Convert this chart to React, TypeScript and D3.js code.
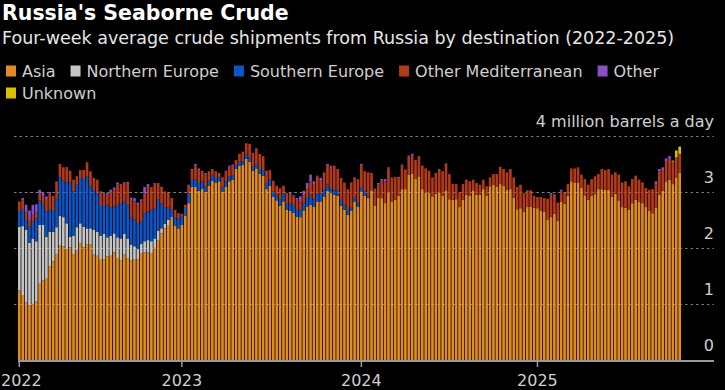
import React, { useRef, useEffect } from 'react';
import * as d3 from 'd3';

// weekly observations, first week starts Sunday 2022-01-30
const firstWeek = new Date(2022, 0, 30);

// million barrels a day, four-week average
const asia = [
  1.25, 1.17, 1.04, 0.99, 1.01, 1.05, 1.37, 1.43, 1.46, 1.68, 1.77, 1.90, 2.05, 2.04, 1.99, 2.02, 1.90, 1.96, 2.10, 2.02, 2.08, 2.07, 1.89, 1.87, 1.80, 1.81, 1.86,
  1.87, 1.93, 1.83, 1.79, 1.90, 1.83, 1.79, 1.80, 1.81, 1.92, 1.93, 1.93, 1.92, 2.01, 2.14, 2.27, 2.36, 2.42, 2.54, 2.41, 2.36, 2.42, 2.59, 2.81, 3.10, 3.10, 3.03, 3.07,
  3.01, 3.12, 3.21, 3.18, 3.20, 3.02, 3.10, 3.20, 3.23, 3.42, 3.48, 3.49, 3.60, 3.55, 3.39, 3.43, 3.33, 3.30, 3.06, 3.12, 2.92, 2.86, 2.76, 2.84, 2.69, 2.67, 2.64, 2.57, 2.56,
  2.68, 2.75, 2.78, 2.75, 2.84, 2.84, 2.93, 3.03, 3.00, 2.96, 2.94, 2.76, 2.69, 2.60, 2.68, 2.84, 2.75, 3.02, 2.94, 2.90, 3.04, 2.76, 2.90, 2.90, 2.81, 3.00, 2.84,
  2.87, 2.94, 3.06, 3.06, 3.32, 3.33, 3.24, 3.29, 3.06, 3.00, 3.00, 2.93, 2.98, 3.00, 2.94, 3.04, 2.88, 2.87, 2.88, 2.74, 2.87, 2.96, 2.94, 3.04, 2.96, 2.96, 3.06, 2.94,
  3.11, 3.14, 3.11, 3.15, 3.12, 3.05, 3.06, 2.91, 2.70, 2.72, 2.66, 2.74, 2.75, 2.73, 2.72, 2.67, 2.66, 2.52, 2.56, 2.62, 2.50, 2.84, 2.80, 2.94, 3.20, 3.18, 3.18, 3.08, 2.95,
  2.87, 2.94, 2.97, 3.06, 3.06, 3.05, 3.05, 2.93, 2.98, 2.86, 2.74, 2.73, 2.69, 2.81, 2.87, 2.84, 2.81, 2.74, 2.67, 2.63, 2.73, 2.96, 3.03, 3.20, 3.23, 3.15, 3.27, 3.35,
];
const northernEurope = [
  1.14, 1.23, 1.29, 1.11, 1.17, 1.08, 1.05, 0.99, 0.75, 0.62, 0.53, 0.48, 0.53, 0.52, 0.46, 0.19, 0.33, 0.42, 0.35, 0.37, 0.28, 0.29, 0.44, 0.43, 0.43, 0.45, 0.34,
  0.36, 0.34, 0.37, 0.39, 0.36, 0.35, 0.28, 0.24, 0.18, 0.16, 0.20, 0.22, 0.21, 0.17, 0.18, 0.09, 0.08, 0.09, 0.02, 0, 0, 0, 0, 0, 0, 0, 0, 0,
  0, 0, 0, 0, 0, 0, 0, 0, 0, 0, 0, 0, 0, 0, 0, 0, 0, 0, 0, 0, 0, 0, 0, 0, 0, 0, 0, 0, 0,
  0, 0, 0, 0, 0, 0, 0, 0, 0, 0, 0, 0, 0, 0, 0, 0, 0, 0, 0, 0, 0, 0, 0, 0, 0, 0, 0,
  0, 0, 0, 0, 0, 0, 0, 0, 0, 0, 0, 0, 0, 0, 0, 0, 0, 0, 0, 0, 0, 0, 0, 0, 0, 0, 0, 0,
  0, 0, 0, 0, 0, 0, 0, 0, 0, 0, 0, 0, 0, 0, 0, 0, 0, 0, 0, 0, 0, 0, 0, 0, 0, 0, 0, 0, 0,
  0, 0, 0, 0, 0, 0, 0, 0, 0, 0, 0, 0, 0, 0, 0, 0, 0, 0, 0, 0, 0, 0, 0, 0, 0, 0, 0, 0,
];
const southernEurope = [
  0.28, 0.29, 0.18, 0.29, 0.30, 0.41, 0.44, 0.36, 0.45, 0.39, 0.36, 0.52, 0.69, 0.65, 0.73, 0.97, 0.79, 0.76, 0.81, 0.85, 0.93, 0.75, 0.71, 0.68, 0.53, 0.50, 0.58,
  0.51, 0.48, 0.58, 0.62, 0.58, 0.60, 0.49, 0.48, 0.45, 0.40, 0.50, 0.51, 0.55, 0.54, 0.55, 0.44, 0.30, 0.22, 0.13, 0.15, 0.18, 0.16, 0.15, 0.18, 0.14, 0.14, 0.14, 0.13,
  0.10, 0.09, 0.11, 0.08, 0.07, 0.08, 0.10, 0.09, 0.07, 0.06, 0.07, 0.06, 0.09, 0.08, 0.07, 0.08, 0.09, 0.10, 0.11, 0.11, 0.10, 0.10, 0.11, 0.14, 0.12, 0.13, 0.14, 0.12, 0.13,
  0.13, 0.15, 0.18, 0.13, 0.15, 0.15, 0.13, 0.11, 0.05, 0.08, 0.10, 0.11, 0.09, 0.09, 0.06, 0.08, 0.07, 0.08, 0.08, 0.04, 0, 0, 0, 0, 0, 0, 0,
  0, 0, 0, 0, 0, 0, 0, 0, 0, 0, 0, 0, 0, 0, 0, 0, 0, 0, 0, 0, 0, 0, 0, 0, 0, 0, 0, 0,
  0, 0, 0, 0, 0, 0, 0, 0, 0, 0, 0, 0, 0, 0, 0, 0, 0, 0, 0, 0, 0, 0, 0, 0, 0, 0, 0, 0, 0,
  0, 0, 0, 0, 0, 0, 0, 0, 0, 0, 0, 0, 0, 0, 0, 0, 0, 0, 0, 0, 0, 0, 0, 0, 0, 0, 0, 0,
];
const otherMediterranean = [
  0.17, 0.17, 0.13, 0.12, 0.12, 0.10, 0.12, 0.15, 0.21, 0.30, 0.28, 0.30, 0.24, 0.24, 0.25, 0.21, 0.21, 0.15, 0.14, 0.16, 0.25, 0.27, 0.22, 0.25, 0.24, 0.24, 0.18,
  0.26, 0.30, 0.36, 0.35, 0.34, 0.39, 0.31, 0.32, 0.34, 0.36, 0.35, 0.44, 0.42, 0.45, 0.30, 0.28, 0.28, 0.27, 0.21, 0.13, 0.09, 0.04, 0.04, 0.15, 0.16, 0.24, 0.22, 0.19,
  0.21, 0.17, 0.10, 0.12, 0.08, 0.16, 0.18, 0.17, 0.18, 0.10, 0.14, 0.18, 0.19, 0.24, 0.25, 0.28, 0.27, 0.25, 0.22, 0.17, 0.19, 0.16, 0.21, 0.14, 0.18, 0.19, 0.15, 0.18, 0.15,
  0.13, 0.18, 0.24, 0.27, 0.30, 0.22, 0.30, 0.35, 0.41, 0.44, 0.38, 0.39, 0.40, 0.37, 0.44, 0.35, 0.41, 0.39, 0.36, 0.41, 0.31, 0.29, 0.24, 0.31, 0.39, 0.43, 0.43,
  0.40, 0.32, 0.42, 0.34, 0.32, 0.34, 0.33, 0.36, 0.42, 0.43, 0.39, 0.34, 0.37, 0.42, 0.44, 0.48, 0.45, 0.28, 0.27, 0.26, 0.28, 0.27, 0.26, 0.19, 0.21, 0.18, 0.17, 0.17,
  0.16, 0.19, 0.22, 0.31, 0.30, 0.31, 0.36, 0.36, 0.40, 0.42, 0.33, 0.30, 0.29, 0.21, 0.20, 0.25, 0.24, 0.37, 0.40, 0.34, 0.30, 0.18, 0.17, 0.21, 0.23, 0.25, 0.27, 0.24, 0.29,
  0.27, 0.30, 0.32, 0.27, 0.36, 0.35, 0.37, 0.39, 0.38, 0.46, 0.44, 0.47, 0.42, 0.43, 0.43, 0.39, 0.37, 0.34, 0.38, 0.43, 0.42, 0.42, 0.37, 0.35, 0.37, 0.40, 0.36, 0.34,
];
const other = [
  0, 0.04, 0.14, 0.17, 0.18, 0.15, 0.07, 0.07, 0.06, 0.02, 0, 0, 0, 0, 0.02, 0, 0, 0, 0, 0, 0, 0, 0, 0, 0.02, 0, 0.03,
  0.05, 0.04, 0.04, 0, 0.01, 0.02, 0.04, 0.06, 0.04, 0.04, 0.12, 0.05, 0, 0, 0, 0.02, 0, 0, 0, 0, 0, 0, 0, 0, 0.02, 0.03, 0.04, 0,
  0.03, 0, 0, 0, 0, 0.01, 0.01, 0.02, 0.02, 0, 0, 0, 0, 0, 0, 0, 0, 0, 0, 0, 0, 0, 0, 0, 0, 0, 0.02, 0.03, 0.09,
  0.09, 0.09, 0.12, 0.05, 0.01, 0.05, 0, 0.02, 0.02, 0, 0, 0, 0, 0, 0, 0, 0.01, 0.02, 0, 0.01, 0, 0.02, 0.03, 0.03, 0.04, 0.02, 0,
  0.01, 0.02, 0.02, 0.01, 0.02, 0.02, 0.01, 0, 0, 0, 0, 0, 0, 0, 0, 0, 0, 0, 0, 0, 0, 0, 0, 0, 0, 0, 0, 0,
  0, 0, 0, 0, 0, 0, 0, 0, 0, 0, 0, 0, 0, 0, 0, 0, 0, 0, 0.03, 0.01, 0.02, 0.03, 0.02, 0, 0, 0, 0, 0, 0,
  0, 0, 0, 0, 0, 0, 0, 0, 0, 0, 0, 0, 0, 0, 0, 0, 0, 0, 0, 0, 0.05, 0.04, 0.05, 0.06, 0.05, 0, 0, 0,
];
const unknown = [
  0, 0, 0, 0, 0, 0, 0, 0, 0, 0, 0, 0, 0, 0, 0, 0, 0, 0, 0, 0, 0, 0, 0, 0, 0, 0, 0,
  0, 0, 0, 0, 0, 0, 0, 0, 0, 0, 0, 0, 0, 0, 0, 0, 0, 0, 0, 0, 0, 0, 0, 0, 0, 0, 0, 0,
  0, 0, 0, 0, 0, 0, 0, 0, 0, 0, 0, 0, 0, 0, 0, 0, 0, 0, 0, 0, 0, 0, 0, 0, 0, 0, 0, 0, 0,
  0, 0, 0, 0, 0, 0, 0, 0, 0, 0, 0, 0, 0, 0, 0, 0, 0, 0, 0, 0, 0, 0, 0, 0, 0, 0, 0,
  0, 0, 0, 0, 0, 0, 0, 0, 0, 0, 0, 0, 0, 0, 0, 0, 0, 0, 0, 0, 0, 0, 0, 0, 0, 0, 0, 0,
  0, 0, 0, 0, 0, 0, 0, 0, 0, 0, 0, 0, 0, 0, 0, 0, 0, 0, 0, 0, 0, 0, 0, 0, 0, 0, 0, 0, 0,
  0, 0, 0, 0, 0, 0, 0, 0, 0, 0, 0, 0, 0, 0, 0, 0, 0, 0, 0, 0, 0, 0, 0, 0, 0, 0.02, 0.12, 0.13,
];

const seriesKeys = ['asia', 'northernEurope', 'southernEurope', 'otherMediterranean', 'other', 'unknown'];
const seriesLabels = ['Asia', 'Northern Europe', 'Southern Europe', 'Other Mediterranean', 'Other', 'Unknown'];
const seriesColors = ['#e08c22', '#c4c4c4', '#0b55c6', '#b33a18', '#8a4fc4', '#d8c000'];
const yTicks = [0, 1, 2, 3, 4];
const years = [2022, 2023, 2024, 2025];

const FONT = "'DejaVu Sans', 'Liberation Sans', sans-serif";

export default function App() {
  const svgRef = useRef<SVGSVGElement>(null);

  useEffect(() => {
    document.body.style.margin = '0';
    document.body.style.background = '#000';
    const svg = d3.select(svgRef.current);
    svg.selectAll('*').remove();
    if (!svgRef.current) return;

    const width = 725;
    const height = 390;
    svg.attr('viewBox', `0 0 ${width} ${height}`);

    const cols: Record<string, number[]> = {
      asia, northernEurope, southernEurope, otherMediterranean, other, unknown,
    };
    const rows = asia.map((_, i) => {
      const r: Record<string, any> = { date: d3.timeWeek.offset(firstWeek, i) };
      seriesKeys.forEach((k) => { r[k] = cols[k][i] ?? 0; });
      return r;
    });
    const stacked = d3.stack<Record<string, any>>().keys(seriesKeys)(rows);

    const x = d3.scaleBand<number>().domain(d3.range(rows.length)).range([18, 681]).paddingInner(0.22);
    const y = d3.scaleLinear().domain([0, 4]).range([360.5, 136.5]);

    // Title block
    svg.append('text').attr('x', 2).attr('y', 20)
      .attr('fill', '#fff').attr('font-family', FONT).attr('font-weight', 700).attr('font-size', 20.5)
      .text("Russia's Seaborne Crude");
    svg.append('text').attr('x', 2).attr('y', 44)
      .attr('fill', '#e6e6e6').attr('font-family', FONT).attr('font-size', 17.5)
      .text('Four-week average crude shipments from Russia by destination (2022-2025)');

    // Legend, wraps when a row runs out of room
    let lx = 6;
    let ly = 71;
    seriesLabels.forEach((label, i) => {
      const item = svg.append('g');
      item.append('rect').attr('x', 0).attr('y', -5.5).attr('width', 10).attr('height', 11)
        .attr('fill', seriesColors[i]);
      const t = item.append('text').attr('x', 16).attr('y', 5.5)
        .attr('fill', '#cfcfcf').attr('font-family', FONT).attr('font-size', 16)
        .text(label);
      const w = 16 + (t.node() as SVGTextElement).getComputedTextLength();
      if (lx + w > 715) { lx = 6; ly += 22; }
      item.attr('transform', `translate(${lx},${ly})`);
      lx += w + 15;
    });

    // Grid behind bars
    const gridFull = svg.append('g');
    yTicks.filter((t) => t > 0).forEach((t) => {
      gridFull.append('line').attr('x1', 14).attr('x2', 714).attr('y1', y(t)).attr('y2', y(t))
        .attr('stroke', '#7a7a7a').attr('stroke-width', 1).attr('stroke-dasharray', '2.5,3');
    });

    // Bars
    const layers = svg.append('g');
    stacked.forEach((layer, li) => {
      layers.append('g').attr('fill', seriesColors[li])
        .selectAll('rect').data(layer.map((d, i) => ({ d, i })).filter((p) => p.d[1] - p.d[0] > 0))
        .enter().append('rect')
        .attr('x', (p) => x(p.i) as number)
        .attr('width', x.bandwidth())
        .attr('y', (p) => y(p.d[1]))
        .attr('height', (p) => y(p.d[0]) - y(p.d[1]));
    });

    // Faint grid over bars
    yTicks.filter((t) => t > 0 && t < 4).forEach((t) => {
      svg.append('line').attr('x1', 18).attr('x2', 681).attr('y1', y(t)).attr('y2', y(t))
        .attr('stroke', '#ffffff').attr('stroke-opacity', 0.12).attr('stroke-width', 1)
        .attr('stroke-dasharray', '2.5,3');
    });

    // Y labels on the right, sitting above each gridline
    yTicks.forEach((t) => {
      svg.append('text').attr('x', 714).attr('y', y(t) - 10)
        .attr('text-anchor', 'end').attr('fill', '#cfcfcf')
        .attr('font-family', FONT).attr('font-size', 16)
        .text(t === 4 ? '4 million barrels a day' : String(t));
    });

    // X axis
    svg.append('line').attr('x1', 18).attr('x2', 714).attr('y1', 361).attr('y2', 361)
      .attr('stroke', '#9a9a9a').attr('stroke-width', 2);
    years.forEach((yr) => {
      const idx = rows.findIndex((r) => r.date.getFullYear() === yr);
      const cx = (x(idx) as number) + x.bandwidth() / 2;
      svg.append('line').attr('x1', cx).attr('x2', cx).attr('y1', 360).attr('y2', 367)
        .attr('stroke', '#9a9a9a').attr('stroke-width', 1.5);
      const label = svg.append('text').attr('y', 386)
        .attr('fill', '#cfcfcf').attr('font-family', FONT).attr('font-size', 16)
        .text(yr);
      const lw = (label.node() as SVGTextElement).getComputedTextLength();
      label.attr('x', Math.max(1, cx - lw / 2));
    });
  }, []);

  return <svg ref={svgRef} width={725} height={390} style={{ display: 'block', background: '#000' }} />;
}
